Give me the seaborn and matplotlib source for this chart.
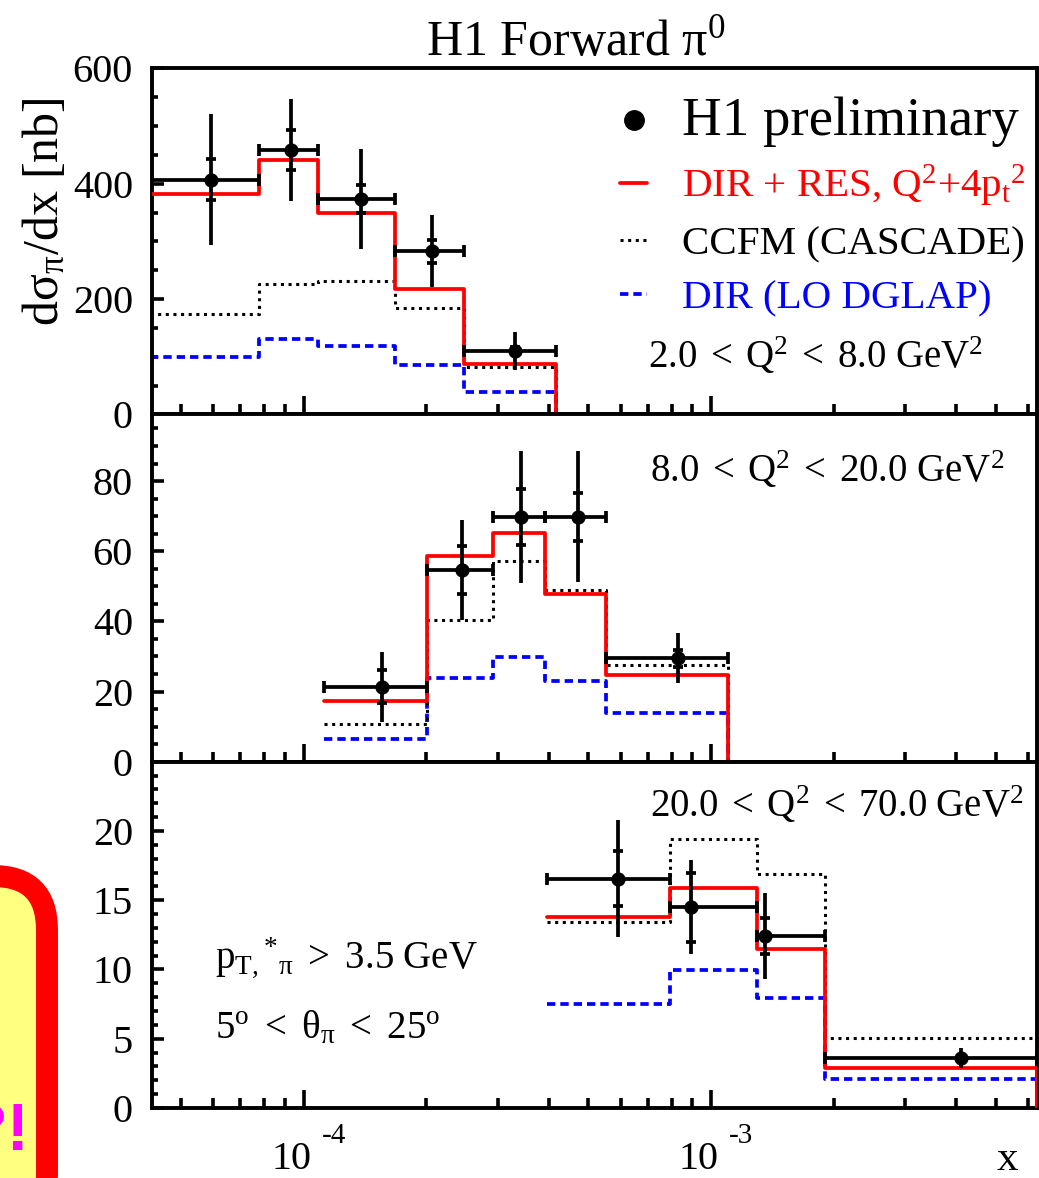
import numpy as np
import pandas as pd
import matplotlib
matplotlib.use("Agg")
import matplotlib.pyplot as plt
import seaborn as sns
from matplotlib.lines import Line2D
from matplotlib.patches import FancyBboxPatch
from matplotlib.ticker import FixedLocator, LogLocator, NullFormatter, MultipleLocator

# ---------------- data ----------------
XLIM = (4.24e-5, 6.3e-3)

# panel 1 : 2.0 < Q^2 < 8.0 GeV^2
p1_edges = [4.2e-5, 7.77e-5, 1.084e-4, 1.68e-4, 2.47e-4, 4.16e-4]
p1_x = [5.94e-5, 9.31e-5, 1.383e-4, 2.065e-4, 3.31e-4]
p1_y = [407, 458, 373, 283, 110]
p1_tot = [113, 88, 87, 62, 33]
p1_stat = [35, 35, 24, 20, 6]
p1_dirres = [382, 441, 350, 218, 88]
p1_ccfm = [174, 226, 232, 184, 83]
p1_dir = [100, 130, 118, 85, 38]

# panel 2 : 8.0 < Q^2 < 20.0 GeV^2
p2_edges = [1.122e-4, 2.01e-4, 2.91e-4, 3.91e-4, 5.53e-4, 1.10e-3]
p2_x = [1.556e-4, 2.455e-4, 3.42e-4, 4.72e-4, 8.28e-4]
p2_y = [21.4, 54.6, 69.8, 69.8, 29.5]
p2_tot = [10.0, 14.2, 18.8, 18.7, 7.2]
p2_stat = [4.6, 6.8, 8.0, 6.9, 2.4]
p2_dirres = [17.3, 58.5, 65.3, 47.9, 24.8]
p2_ccfm = [10.8, 40.3, 57.3, 48.9, 27.6]
p2_dir = [6.5, 24.0, 29.8, 22.9, 13.8]

# panel 3 : 20.0 < Q^2 < 70.0 GeV^2
p3_edges = [3.95e-4, 7.93e-4, 1.30e-3, 1.90e-3, 6.3e-3]
p3_x = [5.92e-4, 8.91e-4, 1.36e-3, 4.10e-3]
p3_y = [16.56, 14.5, 12.4, 3.61]
p3_tot = [4.25, 3.4, 3.1, 0.72]
p3_stat = [2.0, 2.5, 1.3, 0.15]
p3_dirres = [13.8, 15.9, 11.5, 2.89]
p3_ccfm = [13.4, 19.4, 16.9, 5.08]
p3_dir = [7.49, 9.99, 7.94, 2.12]

panel_labels = [r"$\mathregular{2.0\;<\;Q^{2}\;<\;8.0\ GeV^{2}}$",
                r"$\mathregular{8.0\;<\;Q^{2}\;<\;20.0\ GeV^{2}}$",
                r"$\mathregular{20.0\;<\;Q^{2}\;<\;70.0\ GeV^{2}}$"]
y_limits = [(0, 600), (0, 99), (0, 25)]
y_major = [[0, 200, 400, 600], [0, 20, 40, 60, 80], [0, 5, 10, 15, 20]]
y_minor = [50, 5, 1]
legend_labels = ["H1 preliminary",
                 r"DIR + RES, $\mathregular{Q^{2}{+}4p_{t}{}^{2}}$",
                 "CCFM (CASCADE)",
                 "DIR (LO DGLAP)"]
x_major = [1e-4, 1e-3]
x_major_base = ["10", "10"]
x_major_exp = ["-4", "-3"]

# ---------------- style ----------------
sns.set_theme(style="ticks")
plt.rcParams["font.family"] = ["Liberation Serif", "DejaVu Serif"]
plt.rcParams["mathtext.fontset"] = "custom"
plt.rcParams["mathtext.rm"] = "Liberation Serif"
plt.rcParams["mathtext.it"] = "Liberation Serif:italic"
plt.rcParams["mathtext.bf"] = "Liberation Serif:bold"
plt.rcParams["lines.scale_dashes"] = False
plt.rcParams["axes.linewidth"] = 2.8
for k in ["text.color", "axes.labelcolor", "xtick.color", "ytick.color", "axes.edgecolor"]:
    plt.rcParams[k] = "black"

RED = "#ff0000"
BLUE = "#0000ff"
DOT = (0, (2.2, 3.3))
DASH = (0, (6.0, 3.6))
LW = 2.7

W, H = 1039, 1178
fig = plt.figure(figsize=(W / 100, H / 100), dpi=100)

left = 151.7 / W
width = (1036.7 - 151.7) / W
panel_px = [(68.3, 414.4), (414.4, 761.7), (761.7, 1108.0)]
axes = []
for (t, b) in panel_px:
    axes.append(fig.add_axes([left, 1 - b / H, width, (b - t) / H]))


def step(ax, edges, vals, color, ls, lw, z):
    xs = list(edges) + [edges[-1]]
    ys = list(vals) + [vals[-1], 0.0]
    df = pd.DataFrame({"x": xs, "y": ys})
    sns.lineplot(data=df, x="x", y="y", ax=ax, estimator=None, sort=False,
                 drawstyle="steps-post", color=color, linestyle=ls, linewidth=lw,
                 zorder=z, legend=False)


def points(ax, edges, x, y, tot, stat):
    x = np.array(x); y = np.array(y)
    lo = np.array(edges[:-1]); hi = np.array(edges[1:])
    ax.errorbar(x, y, yerr=tot, xerr=[x - lo, hi - x], fmt="none", ecolor="black",
                elinewidth=LW, capsize=0, zorder=5)
    ax.plot(np.concatenate([lo, hi]), np.concatenate([y, y]), ls="none", marker="|",
            ms=8, mew=LW, color="black", zorder=5)
    st = np.array(stat)
    ax.plot(np.concatenate([x, x]), np.concatenate([y + st, y - st]), ls="none",
            marker="_", ms=6.5, mew=LW, color="black", zorder=5)
    sns.scatterplot(x=x, y=y, ax=ax, color="black", s=105, edgecolor="black",
                    linewidth=0, zorder=6, legend=False)


data = [
    (p1_edges, p1_x, p1_y, p1_tot, p1_stat, p1_dirres, p1_ccfm, p1_dir),
    (p2_edges, p2_x, p2_y, p2_tot, p2_stat, p2_dirres, p2_ccfm, p2_dir),
    (p3_edges, p3_x, p3_y, p3_tot, p3_stat, p3_dirres, p3_ccfm, p3_dir),
]

for i, ax in enumerate(axes):
    edges, x, y, tot, stat, dr, cc, dd = data[i]
    ax.set_xscale("log")
    ax.set_xlim(XLIM)
    ax.set_ylim(y_limits[i])
    step(ax, edges, dd, BLUE, DASH, LW, 2)
    step(ax, edges, cc, "black", DOT, 2.2, 3)
    step(ax, edges, dr, RED, "-", LW, 4)
    points(ax, edges, x, y, tot, stat)
    ax.set_xlim(XLIM)
    ax.set_ylim(y_limits[i])
    ax.set_xlabel("")
    ax.set_ylabel("")
    ax.xaxis.set_major_locator(FixedLocator(x_major))
    ax.xaxis.set_minor_locator(LogLocator(base=10, subs=np.arange(2, 10) * 1.0, numticks=30))
    ax.xaxis.set_minor_formatter(NullFormatter())
    ax.yaxis.set_major_locator(FixedLocator(y_major[i]))
    ax.yaxis.set_minor_locator(MultipleLocator(y_minor[i]))
    ax.tick_params(axis="y", which="major", direction="in", length=8.4, width=2.6,
                   pad=13.5, labelsize=29, left=True, right=False, colors="black")
    ax.tick_params(axis="y", which="minor", direction="in", length=4.2, width=2.6,
                   left=True, right=False)
    ax.tick_params(axis="x", which="major", direction="in", length=13, width=2.6,
                   bottom=True, top=False, labelbottom=False)
    ax.tick_params(axis="x", which="minor", direction="in", length=7.2, width=2.6,
                   bottom=True, top=False)
    for s in ax.spines.values():
        s.set_visible(True)
        s.set_linewidth(2.8)
        s.set_color("black")

# x tick labels of the bottom panel, ROOT style "10" with detached exponent
axb = axes[2]
for xv, base, ex in zip(x_major, x_major_base, x_major_exp):
    axb.annotate(base, xy=(xv, 0), xycoords=axb.get_xaxis_transform(),
                 xytext=(-9.0, -43.6), textcoords="offset points",
                 fontsize=29, ha="center", va="baseline", annotation_clip=False)
    axb.annotate(ex, xy=(xv, 0), xycoords=axb.get_xaxis_transform(),
                 xytext=(13.0, -25.0), textcoords="offset points",
                 fontsize=21, ha="left", va="baseline", annotation_clip=False)

# panel texts
axes[0].text(0.5605, 0.133, panel_labels[0], transform=axes[0].transAxes,
             fontsize=28, ha="left", va="baseline")
axes[1].text(0.563, 0.806, panel_labels[1], transform=axes[1].transAxes,
             fontsize=28, ha="left", va="baseline")
axes[2].text(0.563, 0.841, panel_labels[2], transform=axes[2].transAxes,
             fontsize=28, ha="left", va="baseline")
axes[2].text(0.0715, 0.404, r"$\mathregular{p_{T,}{}^{*}{}_{\pi}\ >\ 3.5\ GeV}$",
             transform=axes[2].transAxes, fontsize=28, ha="left", va="baseline")
axes[2].text(0.0715, 0.202, r"$\mathregular{5^{o}\ <\ \theta_{\pi}\ <\ 25^{o}}$",
             transform=axes[2].transAxes, fontsize=28, ha="left", va="baseline")

# legend
handles = [
    Line2D([], [], ls="none", marker="o", ms=14, color="black"),
    Line2D([], [], color=RED, lw=LW),
    Line2D([], [], color="black", lw=2.2, ls=DOT),
    Line2D([], [], color=BLUE, lw=LW, ls=DASH),
]
leg = axes[0].legend(handles, legend_labels, loc="upper left",
                     bbox_to_anchor=((620 - 151.7) / 885, 1 - 28 / 346.1),
                     frameon=False, fontsize=29.5, handlelength=0.66,
                     handletextpad=0.85, labelspacing=0.4, borderpad=0,
                     borderaxespad=0)
texts = leg.get_texts()
texts[0].set_fontsize(39.5)
texts[1].set_color(RED)
texts[3].set_color(BLUE)

# axis labels and title
axes[0].set_ylabel(r"$\mathregular{d\sigma_{\pi}/dx\ [nb]}$", fontsize=36, va="center")
axes[0].yaxis.set_label_coords((46 - 151.7) / 885, (414.4 - 212) / 346.1)
axes[2].set_xlabel("x", fontsize=31, loc="right", va="baseline")
axes[2].xaxis.set_label_coords((1018 - 151.7) / 885, (1108 - 1170) / 346.3)
fig.text(576 / W, 1 - 55 / H, r"H1 Forward $\mathregular{\pi^{0}}$", fontsize=36,
         ha="center", va="baseline")

# decorative rounded box at lower left
box = FancyBboxPatch((-1.0, -0.5), 1.47, 3.52,
                     boxstyle="round,pad=0,rounding_size=0.54",
                     transform=fig.dpi_scale_trans, facecolor="#ffff80",
                     edgecolor=RED, linewidth=15.8, clip_on=False, zorder=0)
fig.add_artist(box)
fig.text(30 / W, (H - 1150) / H, "?!", color="#ff00ff", fontsize=48,
         fontweight="bold", family="Liberation Sans", ha="right", va="baseline")

fig.savefig("out.png", dpi=100)
